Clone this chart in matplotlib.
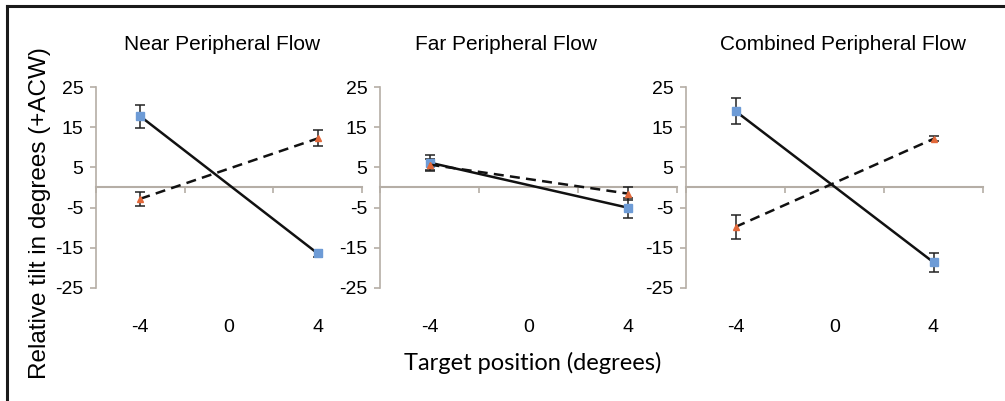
import matplotlib
matplotlib.use("Agg")
import matplotlib.pyplot as plt
from matplotlib.lines import Line2D

# target positions and category axis
positions = [-4, 4]
tick_labels = ["-4", "0", "4"]
tick_values = [-4, 0, 4]
y_ticks = [-25, -15, -5, 5, 15, 25]

titles = ["Near Peripheral Flow", "Far Peripheral Flow", "Combined Peripheral Flow"]

# solid line / blue squares
solid_vals = [[17.7, -16.4], [6.2, -5.0], [19.0, -18.6]]
solid_err = [[2.9, 0.8], [1.8, 2.5], [3.3, 2.3]]
# dashed line / orange triangles
dashed_vals = [[-2.8, 12.2], [5.7, -1.5], [-9.8, 12.1]]
dashed_err = [[1.7, 2.0], [1.5, 1.6], [2.9, 0.6]]

AXIS_COLOR = "#b5aea6"
BLUE = "#6d9bd6"
ORANGE = "#e2683a"

W, H = 1005, 401
fig = plt.figure(figsize=(W / 100, H / 100), dpi=100)
plt.rcParams["font.family"] = ["Liberation Sans", "DejaVu Sans"]

# panel boxes in pixels: left, right
panel_px = [(96, 362), (380, 677), (686, 983)]
title_x = [222, 506, 843]
y_top, y_bot = 87, 288

for i, (l, r) in enumerate(panel_px):
    ax = fig.add_axes([l / W, 1 - y_bot / H, (r - l) / W, (y_bot - y_top) / H])
    ax.set_xlim(-6, 6)
    ax.set_ylim(-25, 25)

    ax.errorbar(positions, solid_vals[i], yerr=solid_err[i], color="#111111", lw=1.8,
                ecolor="#222222", elinewidth=1.1, capsize=3.5, capthick=1.1,
                marker="s", markersize=6, markerfacecolor=BLUE, markeredgecolor=BLUE, zorder=3)
    ax.errorbar(positions, dashed_vals[i], yerr=dashed_err[i], color="#111111", lw=1.8,
                linestyle=(0, (4, 2.5)), ecolor="#222222", elinewidth=1.1, capsize=3.5, capthick=1.1,
                marker="^", markersize=5, markerfacecolor=ORANGE, markeredgecolor=ORANGE, zorder=3)

    for side in ["top", "right", "bottom"]:
        ax.spines[side].set_visible(False)
    ax.spines["left"].set_color(AXIS_COLOR)
    ax.spines["left"].set_linewidth(1.2)
    ax.set_yticks(y_ticks)
    ax.set_yticklabels([str(v) for v in y_ticks])
    ax.tick_params(axis="y", direction="out", length=4, color=AXIS_COLOR, width=1.2,
                   labelsize=14, pad=5)
    ax.set_xticks(tick_values)
    ax.set_xticklabels(tick_labels)
    ax.tick_params(axis="x", length=0, labelsize=14, pad=22)

    # zero line with category boundary ticks
    sec = ax.secondary_xaxis(0.5)
    sec.set_xticks([-6, -2, 2, 6])
    sec.tick_params(direction="in", length=4, color=AXIS_COLOR, width=1.2,
                    labeltop=False, labelbottom=False)
    sec.spines["top"].set_color(AXIS_COLOR)
    sec.spines["top"].set_linewidth(1.5)
    ax.patch.set_visible(False)

    fig.text(title_x[i] / W, 1 - 50 / H, titles[i], fontsize=15, ha="center", va="baseline")

fig.text(40 / W, 1 - 213 / H, "Relative tilt in degrees (+ACW)", rotation=90,
         fontsize=17.5, ha="center", va="center")
fig.text(533 / W, 1 - 363 / H, "Target position (degrees)", fontsize=17,
         ha="center", va="center", family=["Lato", "DejaVu Sans"])

# outer frame (left and top)
fig.add_artist(Line2D([7 / W, 7 / W], [0, 1 - 6 / H], color="#1a1a1a", lw=2.2))
fig.add_artist(Line2D([7 / W, 1], [1 - 6 / H, 1 - 6 / H], color="#1a1a1a", lw=2.2))

fig.savefig("out.png", dpi=100)
